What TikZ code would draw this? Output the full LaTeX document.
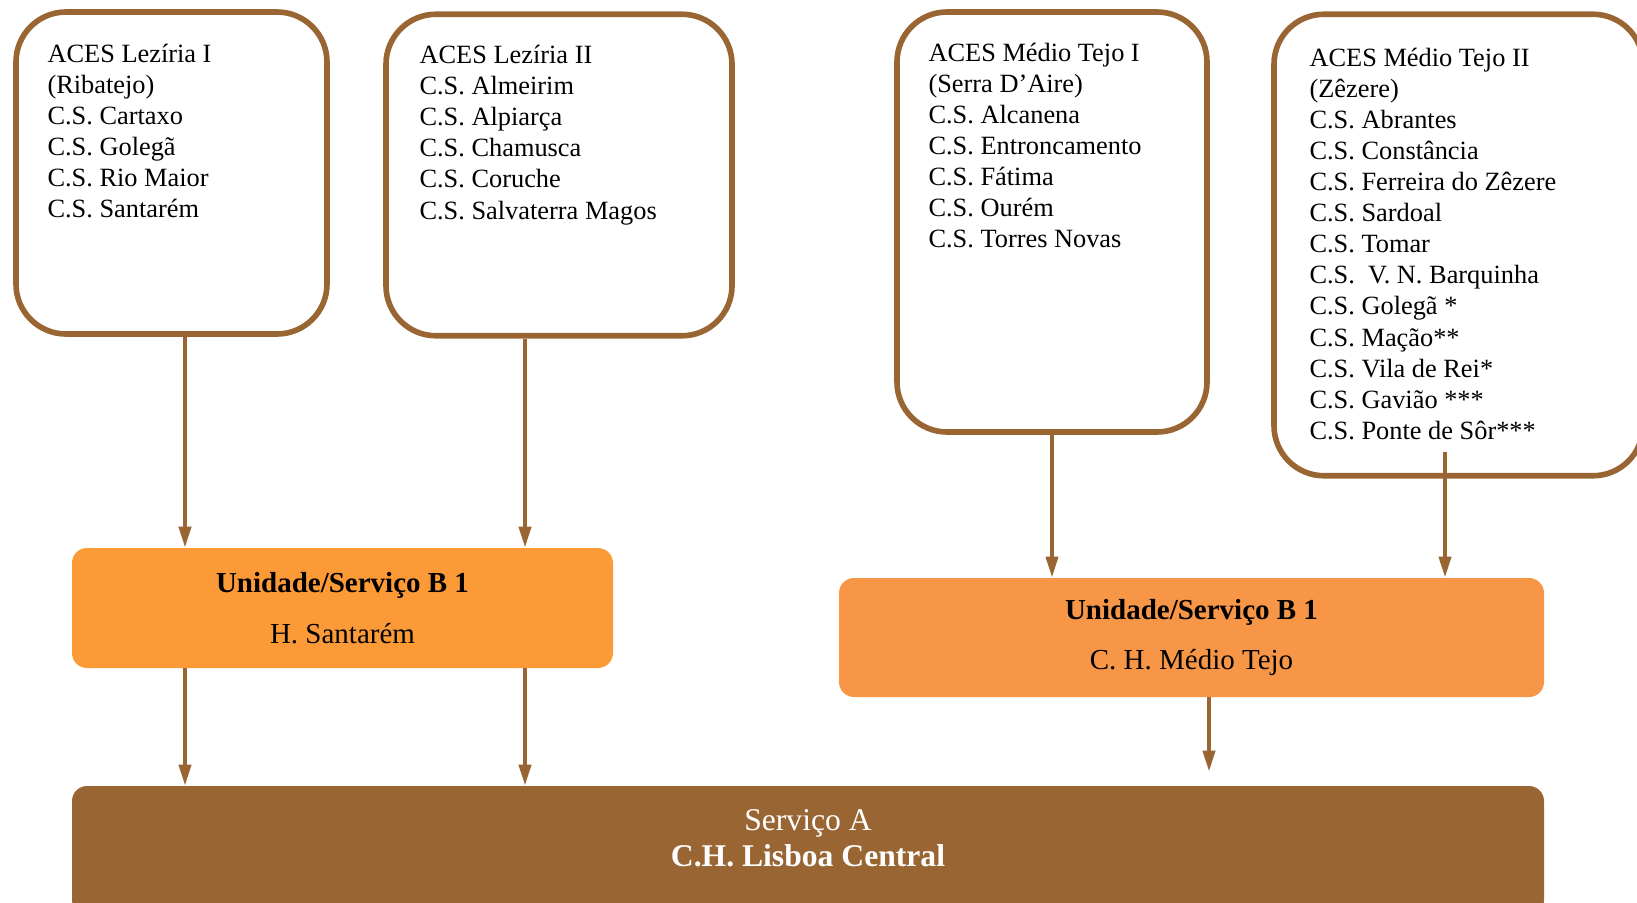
\documentclass[tikz,border=0pt]{standalone}
\usepackage{fontspec}
\setmainfont{Liberation Serif}
\usetikzlibrary{arrows.meta, positioning}
\definecolor{acesbrown}{RGB}{153,102,51}
\definecolor{unitorange}{RGB}{253,154,56}
\definecolor{unitorangeb}{RGB}{247,150,70}
\tikzset{
  aces/.style={draw=acesbrown, line width=3.2pt, rounded corners=1.0cm, fill=white},
  acestext/.style={anchor=north west, align=left, inner sep=0pt, font=\fontsize{15pt}{17.7pt}\selectfont},
  unitbox/.style={rounded corners=0.3cm, align=center, font=\fontsize{16.5pt}{19pt}\selectfont},
  feed/.style={draw=acesbrown, line width=2.2pt, -{Triangle[length=0.42cm,width=0.24cm]}}
}

\begin{document}
\begin{tikzpicture}
\useasboundingbox (0,0) rectangle (32.74,-18.04);
% ACES
\node[aces, minimum width=6.22cm, minimum height=6.44cm] (lez1) at (3.43,-3.46) {};
\node[acestext] (lez1txt) at ([xshift=0.68cm,yshift=-0.62cm]lez1.north west) {\strut ACES Lezíria I\\(Ribatejo)\\C.S. Cartaxo\\C.S. Golegã\\C.S. Rio Maior\\C.S. Santarém};
\node[aces, minimum width=6.92cm, minimum height=6.43cm] (lez2) at (11.18,-3.50) {};
\node[acestext] (lez2txt) at ([xshift=0.72cm,yshift=-0.60cm]lez2.north west) {\strut ACES Lezíria II\\C.S. Almeirim\\C.S. Alpiarça\\C.S. Chamusca\\C.S. Coruche\\C.S. Salvaterra Magos};
\node[aces, minimum width=6.20cm, minimum height=8.40cm] (tejo1) at (21.04,-4.44) {};
\node[acestext] (tejo1txt) at ([xshift=0.68cm,yshift=-0.60cm]tejo1.north west) {\strut ACES Médio Tejo I\\(Serra D’Aire)\\C.S. Alcanena\\C.S. Entroncamento\\C.S. Fátima\\C.S. Ourém\\C.S. Torres Novas};
\node[aces, minimum width=7.38cm, minimum height=9.23cm] (tejo2) at (29.17,-4.90) {};
\node[acestext] (tejo2txt) at ([xshift=0.76cm,yshift=-0.65cm]tejo2.north west) {\strut ACES Médio Tejo II\\(Zêzere)\\C.S. Abrantes\\C.S. Constância\\C.S. Ferreira do Zêzere\\C.S. Sardoal\\C.S. Tomar\\C.S.~~V. N. Barquinha\\C.S. Golegã *\\C.S. Mação**\\C.S. Vila de Rei*\\C.S. Gavião ***\\C.S. Ponte de Sôr***};
% unidades
\node[unitbox, fill=unitorange, minimum width=10.82cm, minimum height=2.40cm] (unit1) at (6.85,-12.16) {\textbf{Unidade/Serviço B 1}\\[10pt]H. Santarém};
\node[unitbox, fill=unitorangeb, minimum width=14.10cm, minimum height=2.38cm] (unit2) at (23.83,-12.75) {\textbf{Unidade/Serviço B 1}\\[10pt]C. H. Médio Tejo};
% servico A
\node[fill=acesbrown, rounded corners=0.3cm, minimum width=29.44cm, minimum height=2.58cm] (servA) at (16.16,-17.01) {};
\node[align=center, text=white, font=\fontsize{18pt}{20.5pt}\selectfont] (servAtxt) at (16.16,-16.76) {Serviço A\\\textbf{C.H. Lisboa Central}};
%
\draw[feed] ([xshift=0.27cm]lez1.south) -- ([xshift=0.27cm]lez1.south |- unit1.north);
\draw[feed] ([xshift=-0.68cm]lez2.south) -- ([xshift=-0.68cm]lez2.south |- unit1.north);
\draw[feed] (tejo1.south) -- (tejo1.south |- unit2.north);
\draw[feed] ([xshift=-0.27cm,yshift=0.54cm]tejo2.south) -- ([xshift=-0.27cm]tejo2.south |- unit2.north);
\draw[feed] ([xshift=0.27cm]lez1.south |- unit1.south) -- ([xshift=0.27cm]lez1.south |- servA.north);
\draw[feed] ([xshift=-0.68cm]lez2.south |- unit1.south) -- ([xshift=-0.68cm]lez2.south |- servA.north);
\draw[feed] ([xshift=0.35cm]unit2.south) -- ([xshift=0.35cm,yshift=0.28cm]unit2.south |- servA.north);
\end{tikzpicture}
\end{document}
